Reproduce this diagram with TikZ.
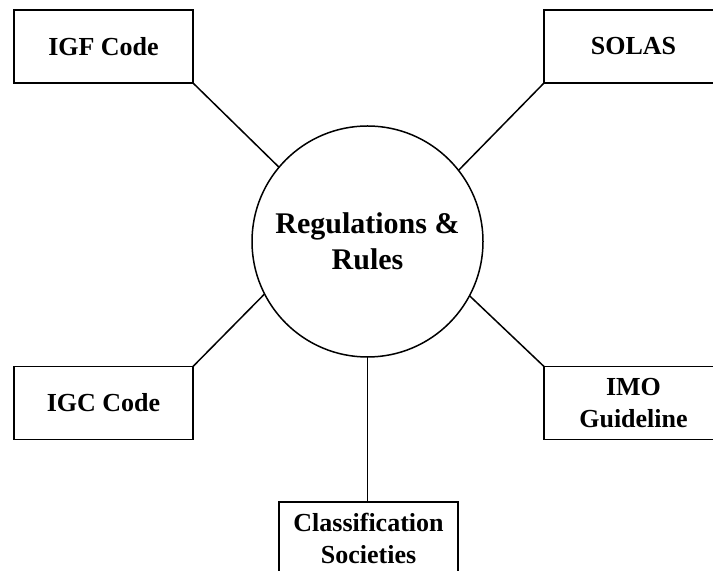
\documentclass[tikz,border=0pt]{standalone}
\usepackage{fontspec}
\setmainfont{Liberation Serif}
\begin{document}
\begin{tikzpicture}[x=0.5pt,y=-0.5pt,
  box/.style={draw,line width=0.75pt,minimum width=89.5pt,minimum height=36.5pt,inner sep=0pt,outer sep=0pt,align=center,font=\fontsize{13}{16}\selectfont\bfseries},
  hub/.style={draw,circle,line width=0.75pt,minimum size=115.5pt,inner sep=0pt,outer sep=0pt,align=center,font=\fontsize{15}{18}\selectfont\bfseries},
  link/.style={line width=0.75pt}]
\useasboundingbox (0,0) rectangle (713,571);
\clip (0,0) rectangle (713,571);
\node[hub] (reg) at (367.5,241.5) {Regulations \&\\Rules};
\node[box] (igf) at (103.5,46.5) {IGF Code};
\node[box] (solas) at (633.5,46.5) {SOLAS};
\node[box] (igc) at (103.5,403) {IGC Code};
\node[box] (imo) at (633.5,403) {IMO\\Guideline};
\node[box] (cls) at (368.5,538.5) {Classification\\Societies};
\draw[link] (igf.south east) -- (reg.140.5);
\draw[link] (solas.south west) -- (reg.38.5);
\draw[link] (igc.north east) -- (reg.207.5);
\draw[link] (imo.north west) -- (reg.332.7);
\draw[link] (cls.north -| reg.south) -- (reg.south);
\end{tikzpicture}
\end{document}
